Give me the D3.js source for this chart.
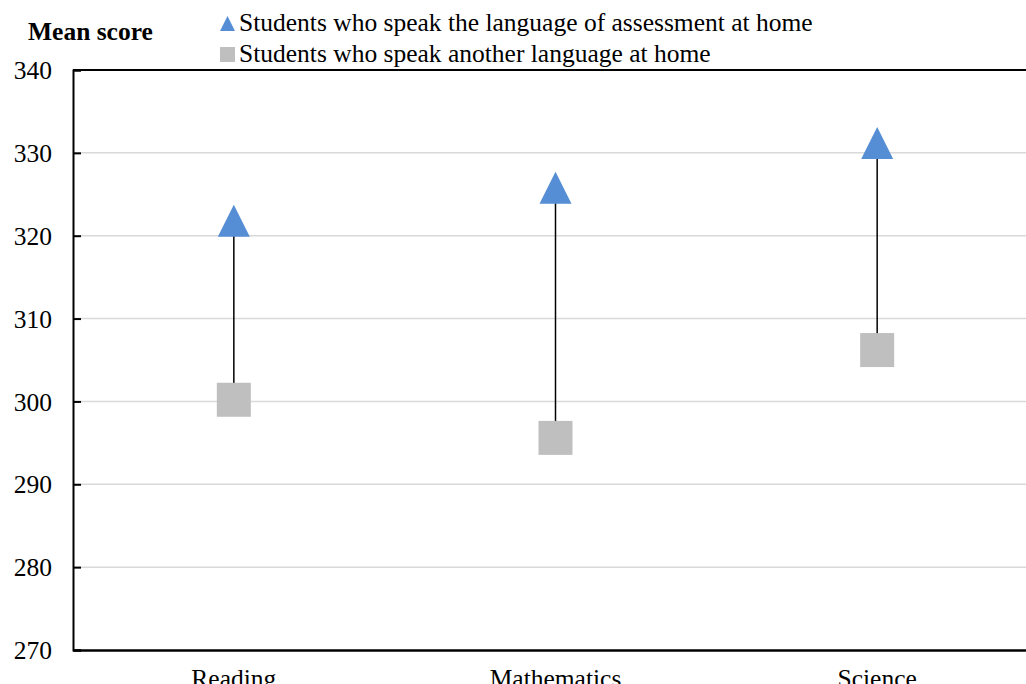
<!DOCTYPE html>
<html lang="en">
<head>
    <meta charset="UTF-8">
    <title>Mean score by language at home</title>
    <style>
        body { margin: 0; background: #fff; }
        svg text { font-family: "Liberation Serif", "Times New Roman", serif; fill: #000; }
    </style>
</head>
<body>
    <script src="https://d3js.org/d3.v7.min.js"></script>
    <script>
        // Chart data
        const subjects = ["Reading", "Mathematics", "Science"];
        const sameLanguage = [321.8, 325.8, 331.2];
        const otherLanguage = [300.2, 295.6, 306.2];
        const yTicks = [270, 280, 290, 300, 310, 320, 330, 340];
        const seriesNames = [
            "Students who speak the language of assessment at home",
            "Students who speak another language at home"
        ];

        const w = 1026;
        const h = 684;
        const plotLeft = 73, plotTop = 70, plotBottom = 650, plotRight = 1038;
        const fontSize = "25.5px";

        const svg = d3.select("body")
            .append("svg")
            .attr("width", w)
            .attr("height", h);

        const x = d3.scaleBand().domain(subjects).range([plotLeft, plotRight]);
        const y = d3.scaleLinear().domain([270, 340]).range([plotBottom, plotTop]);

        // gridlines
        svg.append("g")
            .selectAll("line")
            .data(yTicks.slice(1, -1))
            .join("line")
            .attr("x1", plotLeft)
            .attr("x2", plotRight)
            .attr("y1", d => y(d))
            .attr("y2", d => y(d))
            .attr("stroke", "#d9d9d9")
            .attr("stroke-width", 1.5);

        // frame: top line
        svg.append("line")
            .attr("x1", plotLeft).attr("x2", plotRight)
            .attr("y1", plotTop).attr("y2", plotTop)
            .attr("stroke", "#000").attr("stroke-width", 2);

        // y axis with inward ticks
        const yAxis = svg.append("g")
            .attr("transform", `translate(${plotLeft},0)`)
            .call(d3.axisRight(y).tickValues(yTicks).tickSize(8).tickFormat(d3.format("d")));
        yAxis.select(".domain").attr("stroke", "#000").attr("stroke-width", 2);
        yAxis.selectAll(".tick line").attr("stroke", "#000").attr("stroke-width", 2);
        yAxis.selectAll(".tick text")
            .attr("x", -21)
            .attr("text-anchor", "end")
            .attr("dy", "0.34em")
            .style("font-size", fontSize);

        // x axis
        const xAxis = svg.append("g")
            .attr("transform", `translate(0,${plotBottom})`)
            .call(d3.axisBottom(x).tickSize(0));
        xAxis.select(".domain").attr("stroke", "#000").attr("stroke-width", 2.5);
        xAxis.selectAll(".tick text")
            .attr("y", 37)
            .attr("dy", 0)
            .style("font-size", fontSize);

        // high-low lines
        svg.append("g")
            .selectAll("line")
            .data(subjects)
            .join("line")
            .attr("x1", d => x(d) + x.bandwidth() / 2)
            .attr("x2", d => x(d) + x.bandwidth() / 2)
            .attr("y1", (d, i) => y(sameLanguage[i]))
            .attr("y2", (d, i) => y(otherLanguage[i]))
            .attr("stroke", "#000")
            .attr("stroke-width", 1.5);

        // squares
        const sq = 34;
        svg.append("g")
            .selectAll("rect")
            .data(subjects)
            .join("rect")
            .attr("x", d => x(d) + x.bandwidth() / 2 - sq / 2)
            .attr("y", (d, i) => y(otherLanguage[i]) - sq / 2)
            .attr("width", sq)
            .attr("height", sq)
            .attr("fill", "#bfbfbf");

        // triangles
        const tri = (cx, cy, s) => `M${cx},${cy - s / 2}L${cx + s / 2},${cy + s / 2}L${cx - s / 2},${cy + s / 2}Z`;
        svg.append("g")
            .selectAll("path")
            .data(subjects)
            .join("path")
            .attr("d", (d, i) => tri(x(d) + x.bandwidth() / 2, y(sameLanguage[i]), 32))
            .attr("fill", "#558ed5");

        // title
        svg.append("text")
            .attr("x", 28)
            .attr("y", 40)
            .style("font-size", fontSize)
            .style("font-weight", "bold")
            .text("Mean score");

        // legend
        const legend = svg.append("g");
        legend.append("path")
            .attr("d", tri(227.5, 23.5, 15))
            .attr("fill", "#558ed5");
        legend.append("rect")
            .attr("x", 220).attr("y", 47)
            .attr("width", 15).attr("height", 15)
            .attr("fill", "#bfbfbf");
        legend.selectAll("text")
            .data(seriesNames)
            .join("text")
            .attr("x", 239)
            .attr("y", (d, i) => 31 + i * 31)
            .style("font-size", fontSize)
            .text(d => d);
    </script>
</body>
</html>
